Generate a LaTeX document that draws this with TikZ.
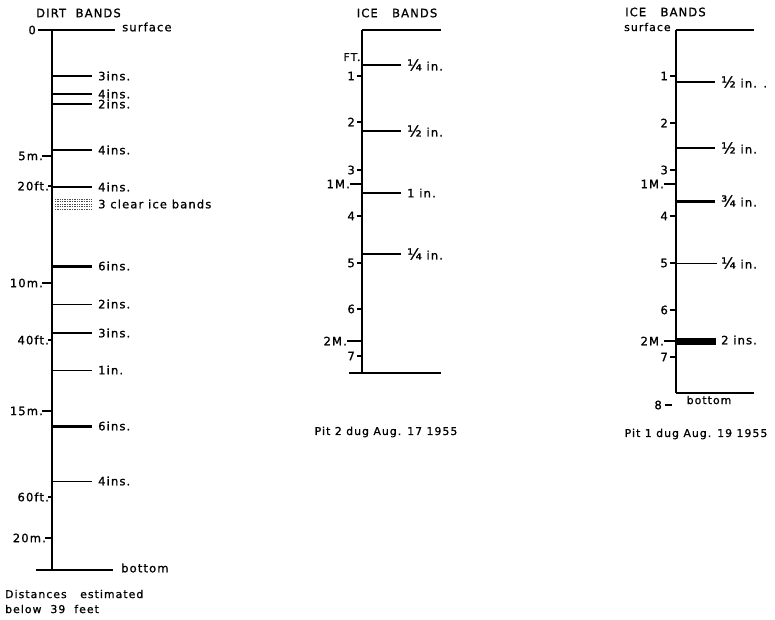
\documentclass[tikz,border=0pt]{standalone}
\usepackage{fontspec}
\setmainfont{DejaVu Sans}[LetterSpace=10,FakeBold=1.2]
\newcommand{\bigfr}[1]{{\fontsize{15}{15}\selectfont #1}}
\begin{document}
\begin{tikzpicture}[x=1pt,y=-1pt,
  axisline/.style={line width=1.8pt},
  bandline/.style={line width=1.3pt},
  thinband/.style={line width=1pt},
  thickband/.style={line width=3pt},
  heavyband/.style={line width=7pt},
  tickline/.style={line width=1.3pt},
  lbl/.style={font=\fontsize{11.5}{12}\selectfont, inner sep=0pt, anchor=west},
  lble/.style={font=\fontsize{11.5}{12}\selectfont, inner sep=0pt, anchor=east},
  ttl/.style={font=\fontsize{11.5}{12}\selectfont, inner sep=0pt},
  captext/.style={font=\fontsize{10.8}{11}\selectfont, inner sep=0pt}]
\useasboundingbox (0,0) rectangle (775,619);

% ---------------- Panel 1: dirt bands ----------------
\node[ttl,anchor=west] (t1) at (36,13) {DIRT\ \ BANDS};
\coordinate (a1top) at (52,30);
\coordinate (a1bot) at (52,570);
\draw[axisline] (a1top) -- (a1bot);
\draw[bandline] (38,30) -- (115,30);
\node[lbl] (surf1) at (122,27) {surface};
\node[lble] (zero) at (36,30) {0};
\draw[bandline] (36,570) -- (113,570);
\node[lbl] (bot1) at (121,568) {bottom};

\foreach \y/\t/\s [count=\i] in {76/3ins./bandline, 94/4ins./bandline, 104/2ins./bandline,
   150/4ins./bandline, 187/4ins./bandline, 266/6ins./thickband, 304/2ins./thinband,
   333/3ins./bandline, 370/1in./thinband, 426/6ins./thickband, 481/4ins./thinband}{
  \draw[\s] (52,\y) -- (92,\y);
  \node[lbl] (d\i) at (98,\y) {\t};
}
% clear ice bands (stippled)
\foreach \y in {199,201.5,...,210}{
  \draw[line width=0.7pt, densely dotted, black!70] (55,\y) -- (91,\y);
}
\node[lbl] (clear) at (98,204) {3 clear ice bands};

\foreach \y/\x/\t [count=\i] in {156/42/5m., 186/48/20ft., 283/42/10m., 340/48/40ft.,
   411/42/15m., 497/48/60ft., 538/45/20m.}{
  \draw[tickline] (\x,\y) -- (52,\y);
  \node[lble] (m\i) at (\x+1,\y) {\t};
}
\node[captext,anchor=west] (note1) at (5,594) {Distances\ \ \ estimated};
\node[captext,anchor=west] (note2) at (5,609) {below\ \ 39\ \ feet};

% ---------------- Panel 2: Pit 2 ----------------
\node[ttl] (t2) at (397,13) {ICE\ \ \ BANDS};
\coordinate (a2top) at (362,30);
\coordinate (a2bot) at (362,373);
\draw[axisline] (a2top) -- (a2bot);
\draw[bandline] (362,30) -- (441,30);
\draw[bandline] (349,373) -- (441,373);
\node[captext] (ft) at (352,57) {FT.};
\foreach \y/\t in {76/1,122/2,170/3,216/4,263/5,309/6,356/7}{
  \draw[tickline] (357,\y) -- (362,\y);
  \node[lble] (p2t\t) at (355,\y) {\t};
}
\draw[tickline] (350,184) -- (362,184);
\node[lble] (p2m1) at (350,184) {1M.};
\draw[tickline] (347,341) -- (362,341);
\node[lble] (p2m2) at (347,341) {2M.};
\foreach \y/\t [count=\i] in {65/\bigfr{¼} in., 131/\bigfr{½} in., 193/1 in., 254/\bigfr{¼} in.}{
  \draw[bandline] (362,\y) -- (401,\y);
  \node[lbl] (p2b\i) at (407,\y) {\t};
}
\node[captext] (c2) at (386,432) {Pit 2 dug Aug. 17 1955};

% ---------------- Panel 3: Pit 1 ----------------
\node[ttl,anchor=west] (t3) at (625,12) {ICE\ \ \ BANDS};
\node[captext,anchor=west] (surf3) at (624,27) {surface};
\coordinate (a3top) at (676,30);
\coordinate (a3bot) at (676,393);
\draw[axisline] (a3top) -- (a3bot);
\draw[bandline] (676,30) -- (754,30);
\draw[bandline] (676,393) -- (754,393);
\node[captext] (bot3) at (709,400) {bottom};
\foreach \y/\t in {76/1,123/2,170/3,216/4,263/5,310/6,357/7}{
  \draw[tickline] (670,\y) -- (676,\y);
  \node[lble] (p3t\t) at (668,\y) {\t};
}
\draw[tickline] (664,184) -- (676,184);
\node[lble] (p3m1) at (664,184) {1M.};
\draw[tickline] (664,341) -- (676,341);
\node[lble] (p3m2) at (664,341) {2M.};
\node[lble] (p3t8) at (662,405) {8};
\draw[tickline] (665,405) -- (672,405);
\draw[bandline] (676,82) -- (715,82);
\node[lbl] (p3b1) at (721,82) {\bigfr{½} in. .};
\draw[bandline] (676,148) -- (715,148);
\node[lbl] (p3b2) at (721,148) {\bigfr{½} in.};
\draw[thickband] (676,201) -- (715,201);
\node[lbl] (p3b3) at (721,201) {\bigfr{¾} in.};
\draw[thinband] (676,263) -- (717,263);
\node[lbl] (p3b4) at (721,263) {\bigfr{¼} in.};
\draw[heavyband] (676,341) -- (716,341);
\node[lbl] (p3b5) at (721,340) {2 ins.};
\node[captext] (c3) at (696,434) {Pit 1 dug Aug. 19 1955};
\end{tikzpicture}
\end{document}
